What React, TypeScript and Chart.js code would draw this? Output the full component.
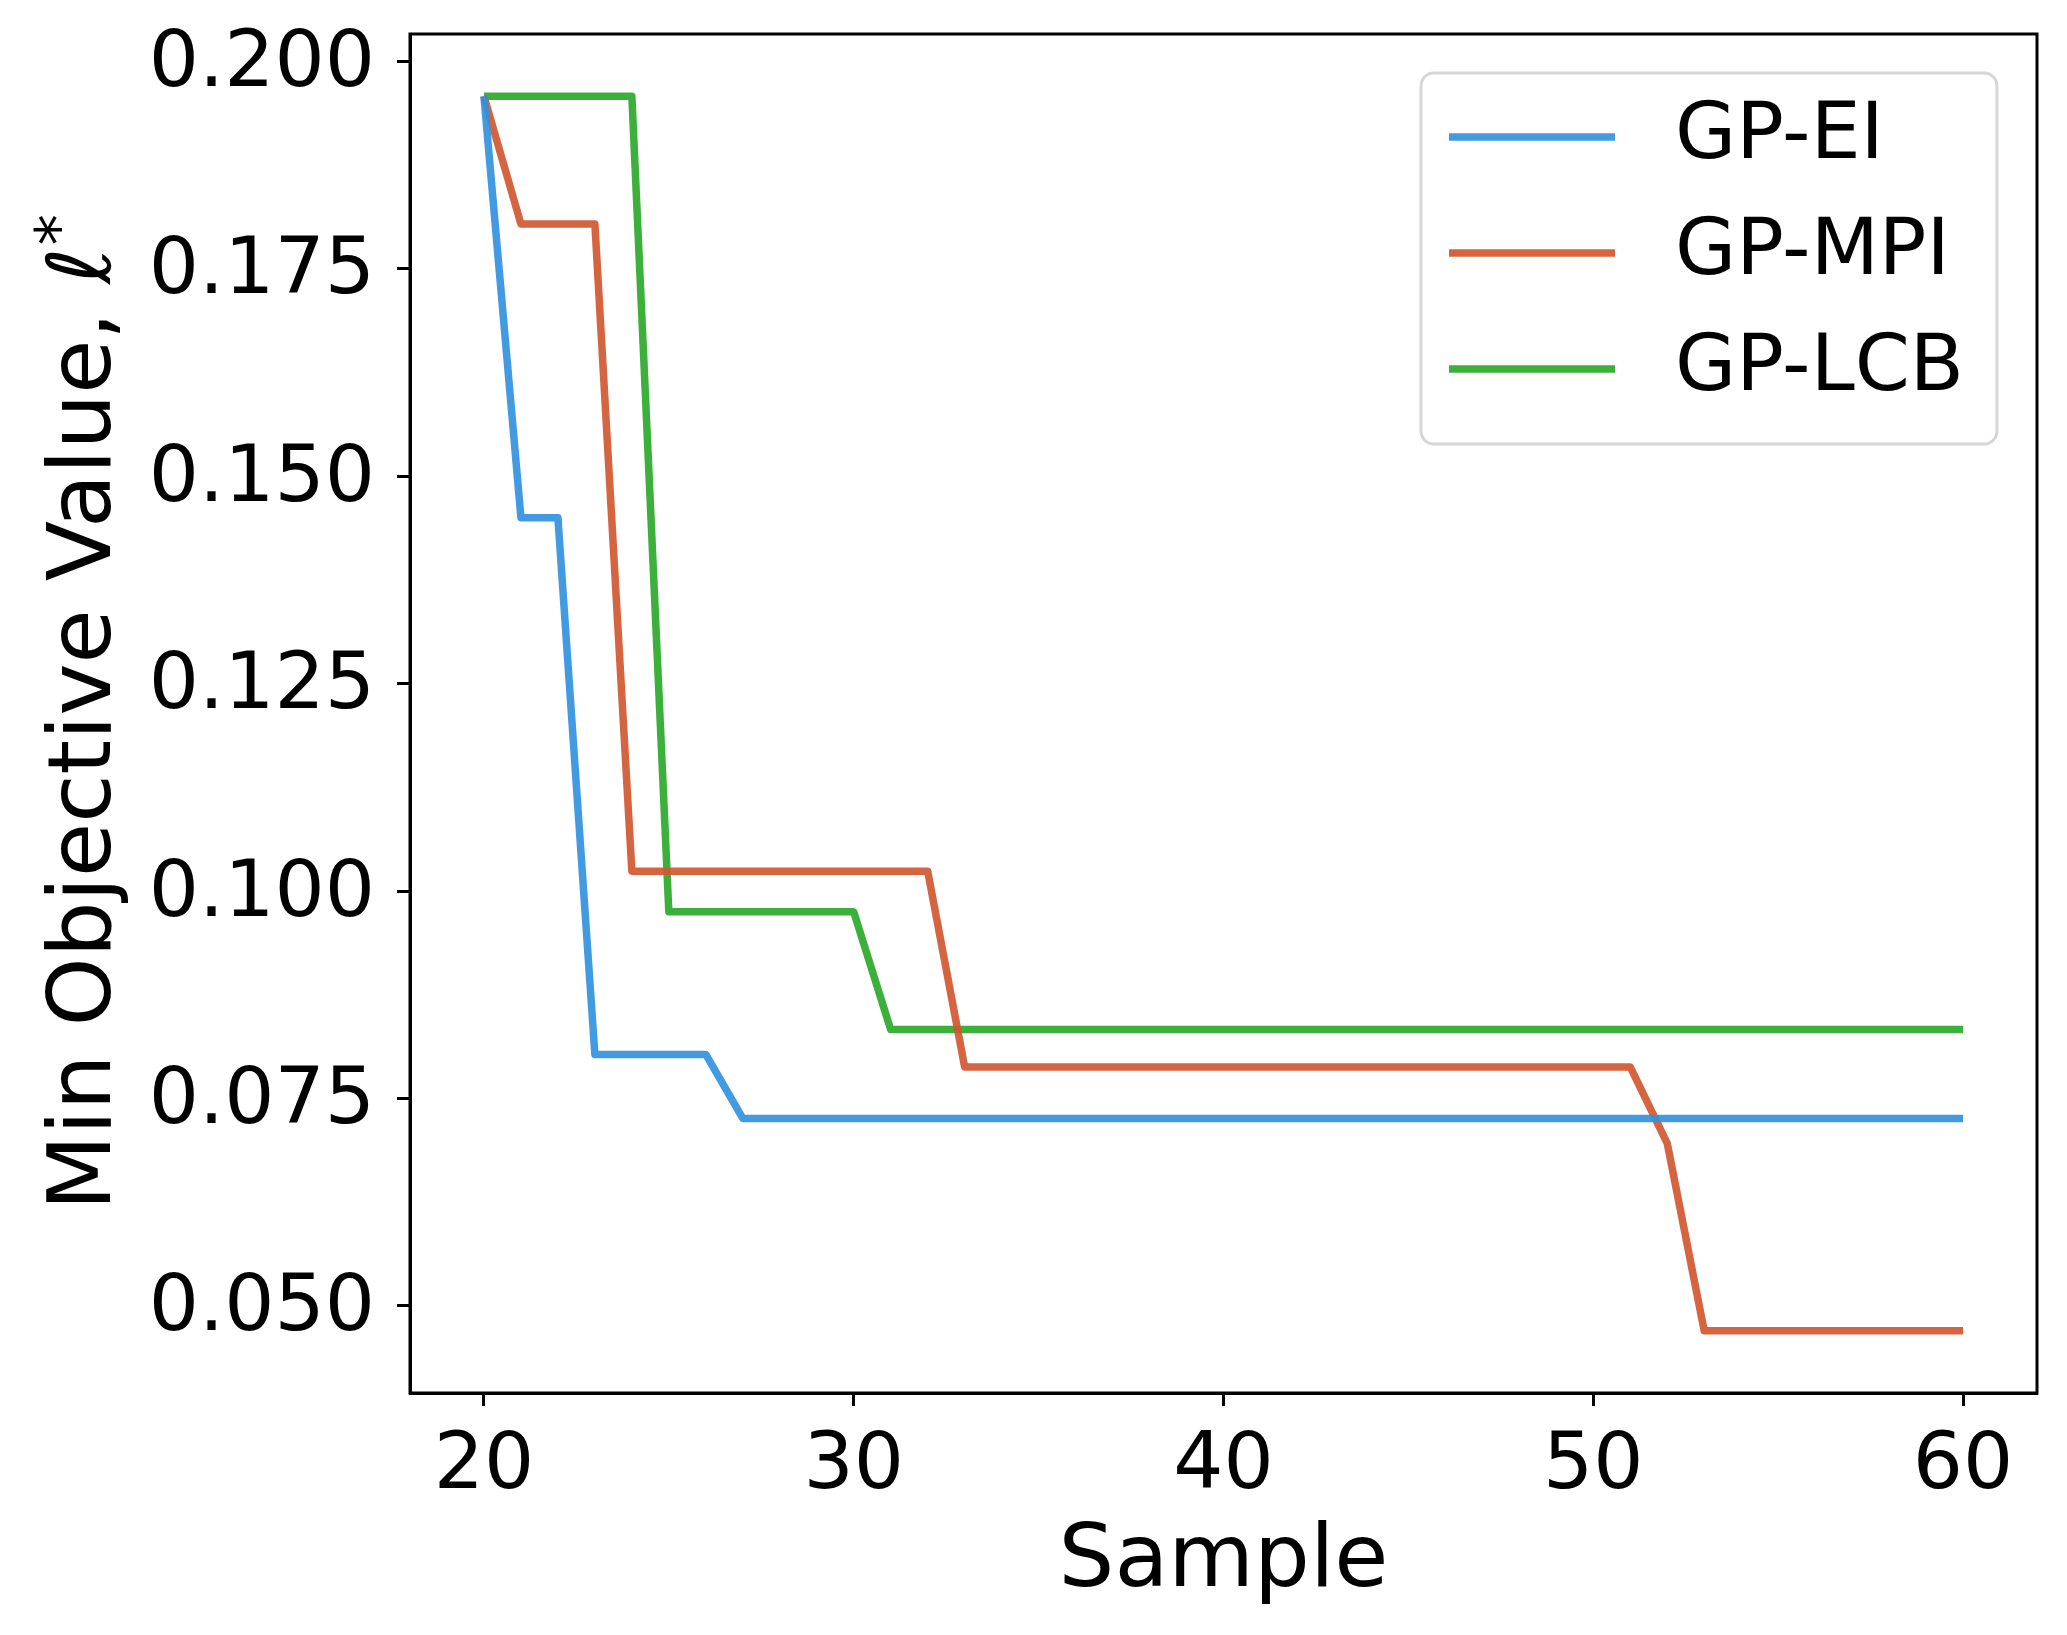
import { useEffect, useRef } from "react";
import { Chart, registerables } from "chart.js";

Chart.register(...registerables);

const samples = [20, 21, 22, 23, 24, 25, 26, 27, 28, 29, 30, 31, 32, 33, 34, 35, 36, 37, 38, 39, 40, 41, 42, 43, 44, 45, 46, 47, 48, 49, 50, 51, 52, 53, 54, 55, 56, 57, 58, 59, 60];

const gpEI = [0.1958, 0.145, 0.145, 0.0803, 0.0803, 0.0803, 0.0803, 0.0726, 0.0726, 0.0726, 0.0726, 0.0726, 0.0726, 0.0726, 0.0726, 0.0726, 0.0726, 0.0726, 0.0726, 0.0726, 0.0726, 0.0726, 0.0726, 0.0726, 0.0726, 0.0726, 0.0726, 0.0726, 0.0726, 0.0726, 0.0726, 0.0726, 0.0726, 0.0726, 0.0726, 0.0726, 0.0726, 0.0726, 0.0726, 0.0726, 0.0726];

const gpMPI = [0.1958, 0.1804, 0.1804, 0.1804, 0.1024, 0.1024, 0.1024, 0.1024, 0.1024, 0.1024, 0.1024, 0.1024, 0.1024, 0.0788, 0.0788, 0.0788, 0.0788, 0.0788, 0.0788, 0.0788, 0.0788, 0.0788, 0.0788, 0.0788, 0.0788, 0.0788, 0.0788, 0.0788, 0.0788, 0.0788, 0.0788, 0.0788, 0.0696, 0.047, 0.047, 0.047, 0.047, 0.047, 0.047, 0.047, 0.047];

const gpLCB = [0.1958, 0.1958, 0.1958, 0.1958, 0.1958, 0.0975, 0.0975, 0.0975, 0.0975, 0.0975, 0.0975, 0.0833, 0.0833, 0.0833, 0.0833, 0.0833, 0.0833, 0.0833, 0.0833, 0.0833, 0.0833, 0.0833, 0.0833, 0.0833, 0.0833, 0.0833, 0.0833, 0.0833, 0.0833, 0.0833, 0.0833, 0.0833, 0.0833, 0.0833, 0.0833, 0.0833, 0.0833, 0.0833, 0.0833, 0.0833, 0.0833];

const seriesNames = ["GP-EI", "GP-MPI", "GP-LCB"];
const seriesColors = ["rgba(50,145,222,0.92)", "rgba(208,88,48,0.92)", "rgba(42,170,42,0.92)"];

const xTicks = [20, 30, 40, 50, 60];
const yTicks = [0.05, 0.075, 0.1, 0.125, 0.15, 0.175, 0.2];

const xLabel = "Sample";
const yLabelMain = "Min Objective Value, \u2113";
const yLabelSup = "*";

const W = 2067;
const H = 1635;
const FONT = "'DejaVu Sans', sans-serif";

export default function App() {
  const ref = useRef<HTMLCanvasElement>(null);

  useEffect(() => {
    if (!ref.current) return;

    const framePlugin = {
      id: "frame",
      afterDatasetsDraw(chart: any) {
        const { ctx } = chart;
        const { left, top, right, bottom } = chart.chartArea;
        ctx.save();
        ctx.strokeStyle = "#000";
        ctx.lineWidth = 3;
        ctx.strokeRect(left, top, right - left, bottom - top);
        ctx.restore();
      },
    };

    const yTitlePlugin = {
      id: "yTitle",
      afterDraw(chart: any) {
        const { ctx } = chart;
        const { top, bottom } = chart.chartArea;
        const cy = (top + bottom) / 2;
        ctx.save();
        ctx.translate(110, cy);
        ctx.rotate(-Math.PI / 2);
        ctx.fillStyle = "#000";
        ctx.textBaseline = "alphabetic";
        ctx.textAlign = "left";
        ctx.font = `88px ${FONT}`;
        const w1 = ctx.measureText(yLabelMain).width;
        ctx.font = `62px ${FONT}`;
        const w2 = ctx.measureText(yLabelSup).width;
        const start = -(w1 + w2) / 2;
        ctx.font = `88px ${FONT}`;
        ctx.fillText(yLabelMain, start, 0);
        ctx.font = `62px ${FONT}`;
        ctx.fillText(yLabelSup, start + w1 + 2, -30);
        ctx.restore();
      },
    };

    const legendPlugin = {
      id: "boxLegend",
      afterDraw(chart: any) {
        const { ctx } = chart;
        const { top, right } = chart.chartArea;
        const bw = 576;
        const bh = 371;
        const bx = right - 616;
        const by = top + 39;
        const r = 13;
        ctx.save();
        ctx.beginPath();
        ctx.moveTo(bx + r, by);
        ctx.lineTo(bx + bw - r, by);
        ctx.arcTo(bx + bw, by, bx + bw, by + r, r);
        ctx.lineTo(bx + bw, by + bh - r);
        ctx.arcTo(bx + bw, by + bh, bx + bw - r, by + bh, r);
        ctx.lineTo(bx + r, by + bh);
        ctx.arcTo(bx, by + bh, bx, by + bh - r, r);
        ctx.lineTo(bx, by + r);
        ctx.arcTo(bx, by, bx + r, by, r);
        ctx.closePath();
        ctx.fillStyle = "rgba(255,255,255,0.8)";
        ctx.fill();
        ctx.strokeStyle = "#d6d6d6";
        ctx.lineWidth = 3;
        ctx.stroke();

        chart.data.datasets.forEach((ds: any, i: number) => {
          const y = by + 64 + i * 116;
          ctx.beginPath();
          ctx.moveTo(bx + 28, y);
          ctx.lineTo(bx + 194, y);
          ctx.strokeStyle = ds.borderColor;
          ctx.lineWidth = 7.5;
          ctx.lineCap = "butt";
          ctx.stroke();
          ctx.fillStyle = "#000";
          ctx.font = `79px ${FONT}`;
          ctx.textAlign = "left";
          ctx.textBaseline = "middle";
          ctx.fillText(ds.label, bx + 254, y);
        });
        ctx.restore();
      },
    };

    const series = [gpEI, gpMPI, gpLCB];

    const chart = new Chart(ref.current, {
      type: "line",
      data: {
        datasets: series.map((vals, i) => ({
          label: seriesNames[i],
          data: samples.map((x, j) => ({ x, y: vals[j] })),
          borderColor: seriesColors[i],
          backgroundColor: seriesColors[i],
          borderWidth: 7.5,
          pointRadius: 0,
          tension: 0,
          fill: false,
          borderJoinStyle: "round" as const,
          borderCapStyle: "butt" as const,
        })),
      },
      options: {
        responsive: false,
        animation: false,
        devicePixelRatio: 1,
        layout: { padding: { top: 34, right: 30, left: 0, bottom: 0 } },
        plugins: {
          legend: { display: false },
          tooltip: { enabled: false },
        },
        scales: {
          x: {
            type: "linear",
            min: 18,
            max: 62,
            afterBuildTicks: (s: any) => {
              s.ticks = xTicks.map((v) => ({ value: v }));
            },
            afterFit: (s: any) => {
              s.height = 242;
              s.paddingLeft = 0;
              s.paddingRight = 0;
            },
            ticks: {
              color: "#000",
              font: { size: 79, family: FONT },
              padding: 14,
              maxRotation: 0,
              autoSkip: false,
              callback: (v: any) => String(v),
            },
            grid: {
              display: true,
              drawOnChartArea: false,
              drawTicks: true,
              tickLength: 13,
              tickWidth: 3,
              tickColor: "#000",
            },
            border: { display: true, color: "#000", width: 3 },
            title: {
              display: true,
              text: xLabel,
              color: "#000",
              font: { size: 88, family: FONT },
              padding: { top: 0, bottom: 19 },
            },
          },
          y: {
            type: "linear",
            min: 0.0395,
            max: 0.2033,
            afterBuildTicks: (s: any) => {
              s.ticks = yTicks.map((v) => ({ value: v }));
            },
            afterFit: (s: any) => {
              s.width = 410;
              s.paddingTop = 0;
              s.paddingBottom = 0;
            },
            ticks: {
              color: "#000",
              font: { size: 79, family: FONT },
              padding: 22,
              labelOffset: 4,
              autoSkip: false,
              callback: (v: any) => Number(v).toFixed(3),
            },
            grid: {
              display: true,
              drawOnChartArea: false,
              drawTicks: true,
              tickLength: 13,
              tickWidth: 3,
              tickColor: "#000",
            },
            border: { display: true, color: "#000", width: 3 },
            title: { display: false },
          },
        },
      },
      plugins: [framePlugin, yTitlePlugin, legendPlugin],
    });

    return () => chart.destroy();
  }, []);

  return (
    <div style={{ position: "fixed", left: 0, top: 0, width: W, height: H, background: "#fff" }}>
      <canvas ref={ref} width={W} height={H} style={{ width: W, height: H, display: "block" }} />
    </div>
  );
}
